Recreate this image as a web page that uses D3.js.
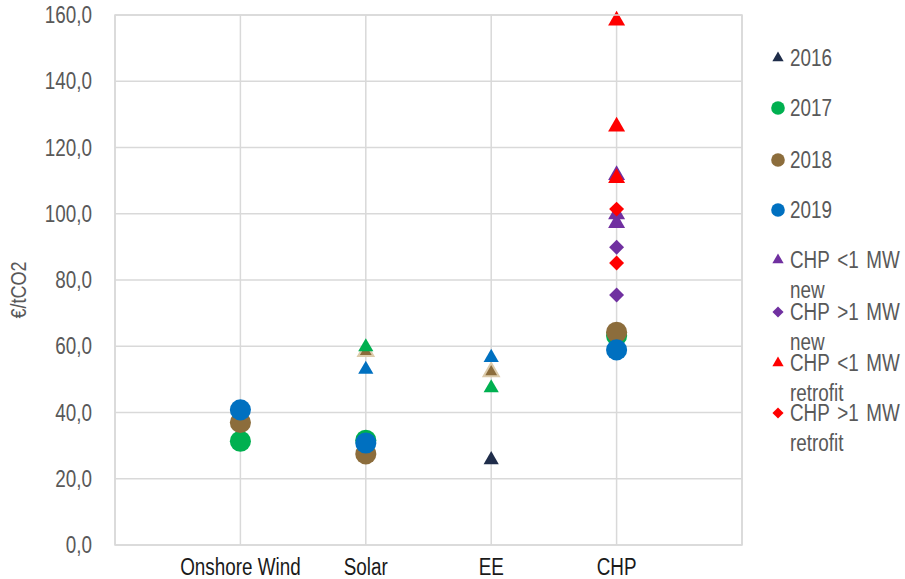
<!DOCTYPE html>
<html>
  <head>
    <meta charset="utf-8">
    <title>CO2 abatement cost</title>
    <script src="https://d3js.org/d3.v7.min.js"></script>
    <style>
      body { margin: 0; background: #fff; }
      text { font-family: "Liberation Sans", Arial, sans-serif; }
    </style>
  </head>
  <body>
    <div id="chart"></div>
    <script>
      // categories and y ticks
      const categories = ["Onshore Wind", "Solar", "EE", "CHP"];
      const yTicks = [0, 20, 40, 60, 80, 100, 120, 140, 160];

      // series values: [category, €/tCO2]
      const y2016Tri = [["EE", 25.7]];
      const y2017Tri = [["Solar", 59.8], ["EE", 47.4]];
      const y2018Tri = [["Solar", 58.4], ["EE", 52.3]];
      const y2019Tri = [["Solar", 53.0], ["EE", 56.6]];
      const y2017Dot = [["Onshore Wind", 31.3], ["Solar", 31.6], ["CHP", 63.2]];
      const y2018Dot = [["Onshore Wind", 37.0], ["Solar", 27.5], ["CHP", 64.2]];
      const y2019Dot = [["Onshore Wind", 40.8], ["Solar", 30.8], ["CHP", 58.9]];
      const chpSmallNew = [["CHP", 111.7], ["CHP", 99.8], ["CHP", 97.2]];
      const chpLargeNew = [["CHP", 89.9], ["CHP", 75.5]];
      const chpSmallRetrofit = [["CHP", 158.3], ["CHP", 126.3], ["CHP", 110.8]];
      const chpLargeRetrofit = [["CHP", 101.4], ["CHP", 85.1]];

      // drawing order (later on top)
      const series = [
        { data: y2016Tri, shape: "tri", color: "#1f2d4a" },
        { data: y2018Tri, shape: "tri", color: "#8c6d3c", stroke: "#dccbab" },
        { data: y2017Tri, shape: "tri", color: "#00b050" },
        { data: y2019Tri, shape: "tri", color: "#0070c0" },
        { data: y2017Dot, shape: "dot", color: "#00b050" },
        { data: y2018Dot, shape: "dot", color: "#8c6d3c" },
        { data: y2019Dot, shape: "dot", color: "#0070c0" },
        { data: chpSmallNew, shape: "bigtri", color: "#7030a0" },
        { data: chpLargeNew, shape: "dia", color: "#7030a0" },
        { data: chpSmallRetrofit, shape: "bigtri", color: "#ff0000" },
        { data: chpLargeRetrofit, shape: "dia", color: "#ff0000" }
      ];

      const legendItems = [
        { label: ["2016"], shape: "tri", color: "#1f2d4a" },
        { label: ["2017"], shape: "dot", color: "#00b050" },
        { label: ["2018"], shape: "dot", color: "#8c6d3c" },
        { label: ["2019"], shape: "dot", color: "#0070c0" },
        { label: ["CHP <1 MW", "new"], shape: "tri", color: "#7030a0" },
        { label: ["CHP >1 MW", "new"], shape: "dia", color: "#7030a0" },
        { label: ["CHP <1 MW", "retrofit"], shape: "tri", color: "#ff0000" },
        { label: ["CHP >1 MW", "retrofit"], shape: "dia", color: "#ff0000" }
      ];

      const width = 905, height = 579;
      const margin = { top: 15, right: 163, bottom: 34, left: 115 };
      const squeeze = 0.82; // narrow font look

      const svg = d3.select("#chart")
        .append("svg")
        .attr("width", width)
        .attr("height", height);

      const x = d3.scalePoint()
        .domain(["", ...categories, " "])
        .range([margin.left, width - margin.right]);
      const y = d3.scaleLinear()
        .domain([0, 160])
        .range([height - margin.bottom, margin.top]);

      const fmt = d => d3.format(".1f")(d).replace(".", ",");
      const at = (px, py) => "translate(" + px + "," + py + ") scale(" + squeeze + ",1)";

      // gridlines
      svg.append("g")
        .selectAll("line")
        .data(yTicks)
        .join("line")
          .attr("x1", margin.left).attr("x2", width - margin.right)
          .attr("y1", d => y(d)).attr("y2", d => y(d))
          .attr("stroke", "#d9d9d9").attr("stroke-width", 1.5);
      svg.append("g")
        .selectAll("line")
        .data(x.domain())
        .join("line")
          .attr("x1", d => x(d)).attr("x2", d => x(d))
          .attr("y1", margin.top).attr("y2", height - margin.bottom)
          .attr("stroke", "#d9d9d9").attr("stroke-width", 1.5);

      // y axis labels
      svg.append("g")
        .selectAll("text")
        .data(yTicks)
        .join("text")
          .attr("transform", d => at(92, y(d) + 8))
          .attr("text-anchor", "end")
          .attr("font-size", 23)
          .attr("fill", "#595959")
          .text(fmt);
      svg.append("text")
        .attr("transform", "translate(26," + 290 + ") rotate(-90) scale(" + squeeze + ",1)")
        .attr("text-anchor", "middle")
        .attr("font-size", 22)
        .attr("fill", "#595959")
        .text("€/tCO2");

      // x labels
      svg.append("g")
        .selectAll("text")
        .data(categories)
        .join("text")
          .attr("transform", d => at(x(d), 575))
          .attr("text-anchor", "middle")
          .attr("font-size", 23)
          .attr("fill", "#1a1a1a")
          .text(d => d);

      function symbolPath(shape, scale) {
        if (shape === "dot") return d3.symbol(d3.symbolCircle, 350 * scale)();
        if (shape === "tri") return d3.symbol(d3.symbolTriangle, 100 * scale)();
        if (shape === "bigtri") return d3.symbol(d3.symbolTriangle, 125 * scale)();
        return d3.symbol(d3.symbolSquare, 112 * scale)();
      }

      // marks
      series.forEach(s => {
        svg.append("g")
          .selectAll("path")
          .data(s.data)
          .join("path")
            .attr("d", symbolPath(s.shape, 1))
            .attr("transform", d => "translate(" + x(d[0]) + "," + y(d[1]) + ")" + (s.shape === "dia" ? " rotate(45)" : ""))
            .attr("fill", s.color)
            .attr("stroke", s.stroke || "none")
            .attr("stroke-width", 2);
      });

      // legend
      const legendY = [58, 108, 160, 210, 260, 312, 363, 413];
      const legend = svg.append("g")
        .selectAll("g")
        .data(legendItems)
        .join("g")
          .attr("transform", (d, i) => "translate(778," + legendY[i] + ")");
      legend.append("path")
        .attr("d", d => symbolPath(d.shape, d.shape === "dot" ? 0.42 : 0.55))
        .attr("transform", d => d.shape === "dia" ? "rotate(45)" : null)
        .attr("fill", d => d.color);
      legend.each(function(d) {
        d3.select(this).selectAll("text")
          .data(d.label)
          .join("text")
            .attr("transform", (t, i) => at(12, i * 30 + 8))
            .attr("font-size", 23)
            .attr("fill", "#595959")
            .attr("word-spacing", 3)
            .text(t => t);
      });

      // plot border
      svg.append("rect")
        .attr("x", margin.left).attr("y", margin.top)
        .attr("width", width - margin.right - margin.left)
        .attr("height", height - margin.bottom - margin.top)
        .attr("fill", "none")
        .attr("stroke", "#d9d9d9").attr("stroke-width", 1.5);
    </script>
  </body>
</html>
